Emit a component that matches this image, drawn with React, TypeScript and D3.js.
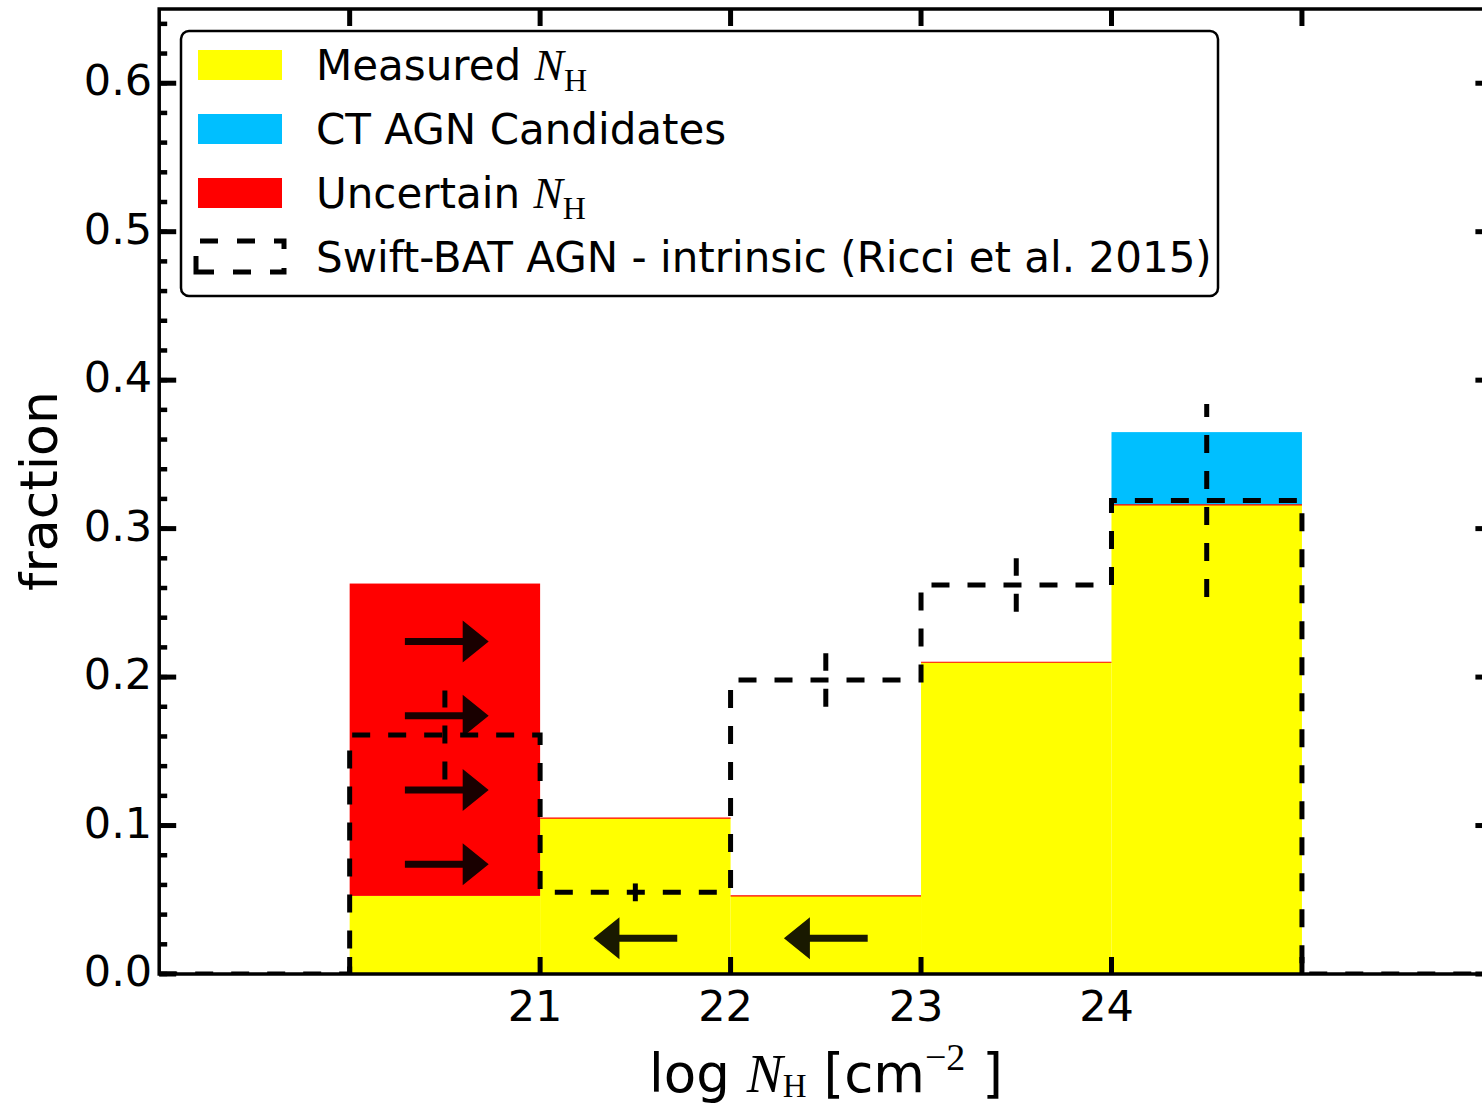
import React, { useEffect, useRef } from 'react';
import * as d3 from 'd3';

// bins in log NH
const binEdges = [20, 21, 22, 23, 24, 25];
const measured = [0.0526, 0.105, 0.0526, 0.21, 0.316];
const uncertain = [0.2104, 0, 0, 0, 0];
const ctCandidates = [0, 0, 0, 0, 0.049];
// Swift-BAT intrinsic (Ricci et al. 2015)
const ricci = [0.161, 0.055, 0.198, 0.262, 0.319];
const ricciErr = [0.03, 0.006, 0.018, 0.018, 0.065];
// limit arrows (from -> to, at height y)
const limitArrows = [
  { from: 20.29, to: 20.73, y: 0.074 },
  { from: 20.29, to: 20.73, y: 0.124 },
  { from: 20.29, to: 20.73, y: 0.174 },
  { from: 20.29, to: 20.73, y: 0.224 },
  { from: 21.72, to: 21.28, y: 0.024 },
  { from: 22.72, to: 22.28, y: 0.024 },
];

const xTicks = [20, 21, 22, 23, 24, 25];
const xTickLabels = [21, 22, 23, 24];
const yTicks = [0, 0.1, 0.2, 0.3, 0.4, 0.5, 0.6];
const yMinorTicks = d3.range(0, 0.65, 0.02);

const legendItems = [
  { label: 'Measured', math: true, color: '#ffff00' },
  { label: 'CT AGN Candidates', math: false, color: '#00bfff' },
  { label: 'Uncertain', math: true, color: '#ff0000' },
  { label: 'Swift-BAT AGN - intrinsic (Ricci et al. 2015)', math: false, color: null },
];

const App = () => {
  const ref = useRef(null);

  useEffect(() => {
    document.body.style.margin = '0';
    const width = 1482;
    const height = 1105;
    const font = 'DejaVu Sans';
    const serif = 'Liberation Serif';

    const x = d3.scaleLinear().domain([19, 26]).range([159.2, 1492.4]);
    const y = d3.scaleLinear().domain([0, 0.65]).range([974, 9]);
    const [x0, x1] = x.range();
    const [yb, yt] = y.range();

    d3.select(ref.current).select('svg').remove();
    const svg = d3
      .select(ref.current)
      .append('svg')
      .attr('width', width)
      .attr('height', height)
      .style('display', 'block')
      .style('background', '#fff');

    svg
      .append('defs')
      .append('clipPath')
      .attr('id', 'plot-clip')
      .append('rect')
      .attr('x', x0)
      .attr('y', yt)
      .attr('width', x1 - x0)
      .attr('height', yb - yt);

    const plot = svg.append('g').attr('clip-path', 'url(#plot-clip)');
    const bins = measured.map((m, i) => ({
      lo: binEdges[i],
      hi: binEdges[i + 1],
      m,
      u: uncertain[i],
      c: ctCandidates[i],
    }));

    // stacked bars
    plot
      .selectAll('rect.measured')
      .data(bins)
      .enter()
      .append('rect')
      .attr('x', d => x(d.lo))
      .attr('width', d => x(d.hi) - x(d.lo))
      .attr('y', d => y(d.m))
      .attr('height', d => y(0) - y(d.m))
      .attr('fill', '#ffff00');

    plot
      .selectAll('rect.uncertain')
      .data(bins.filter(d => d.u > 0))
      .enter()
      .append('rect')
      .attr('x', d => x(d.lo))
      .attr('width', d => x(d.hi) - x(d.lo))
      .attr('y', d => y(d.m + d.u))
      .attr('height', d => y(d.m) - y(d.m + d.u))
      .attr('fill', '#ff0000');

    plot
      .selectAll('rect.ct')
      .data(bins.filter(d => d.c > 0))
      .enter()
      .append('rect')
      .attr('x', d => x(d.lo))
      .attr('width', d => x(d.hi) - x(d.lo))
      .attr('y', d => y(d.m + d.u + d.c))
      .attr('height', d => y(d.m + d.u) - y(d.m + d.u + d.c))
      .attr('fill', '#00bfff');

    // thin red edge of the empty "uncertain" bars
    plot
      .selectAll('line.redge')
      .data(bins.filter(d => d.u === 0))
      .enter()
      .append('line')
      .attr('x1', d => x(d.lo))
      .attr('x2', d => x(d.hi))
      .attr('y1', d => y(d.m))
      .attr('y2', d => y(d.m))
      .attr('stroke', '#ff0000')
      .attr('stroke-width', 1.2);

    // limit arrows
    const arrowPath = a => {
      const xa = x(a.from);
      const xb = x(a.to);
      const yy = y(a.y);
      const dir = Math.sign(xb - xa);
      const headLen = 26;
      const headHalf = 21;
      const shaft = 3.5;
      const xh = xb - dir * headLen;
      return `M${xa},${yy - shaft}L${xh},${yy - shaft}L${xh},${yy - headHalf}L${xb},${yy}L${xh},${yy + headHalf}L${xh},${yy + shaft}L${xa},${yy + shaft}Z`;
    };
    plot
      .selectAll('path.arrow')
      .data(limitArrows)
      .enter()
      .append('path')
      .attr('d', arrowPath)
      .attr('fill', '#000')
      .attr('fill-opacity', 0.9);

    // Ricci step histogram
    const stepPts = [[x.domain()[0], 0]]
      .concat(ricci.map((v, i) => [binEdges[i], v]))
      .concat([[binEdges[binEdges.length - 1], 0], [x.domain()[1], 0]]);
    const step = d3
      .line()
      .x(d => x(d[0]))
      .y(d => y(d[1]))
      .curve(d3.curveStepAfter);
    plot
      .append('path')
      .attr('d', step(stepPts))
      .attr('fill', 'none')
      .attr('stroke', '#000')
      .attr('stroke-width', 5)
      .attr('stroke-dasharray', '18,18');

    // error bars
    plot
      .selectAll('line.err')
      .data(ricci)
      .enter()
      .append('line')
      .attr('x1', (d, i) => x((binEdges[i] + binEdges[i + 1]) / 2))
      .attr('x2', (d, i) => x((binEdges[i] + binEdges[i + 1]) / 2))
      .attr('y1', (d, i) => y(d - ricciErr[i]))
      .attr('y2', (d, i) => y(d + ricciErr[i]))
      .attr('stroke', '#000')
      .attr('stroke-width', 5)
      .attr('stroke-dasharray', '18,18');

    // spines
    const axes = svg.append('g');
    axes
      .append('rect')
      .attr('x', x0)
      .attr('y', yt)
      .attr('width', x1 - x0)
      .attr('height', yb - yt)
      .attr('fill', 'none')
      .attr('stroke', '#000')
      .attr('stroke-width', 3.5);

    // x ticks top and bottom
    xTicks.forEach(t => {
      axes.append('line').attr('x1', x(t)).attr('x2', x(t)).attr('y1', yt).attr('y2', yt + 17)
        .attr('stroke', '#000').attr('stroke-width', 5);
      axes.append('line').attr('x1', x(t)).attr('x2', x(t)).attr('y1', yb).attr('y2', yb - 17)
        .attr('stroke', '#000').attr('stroke-width', 5);
    });
    // y ticks left and right
    yMinorTicks.forEach(t => {
      axes.append('line').attr('x1', x0).attr('x2', x0 + 8).attr('y1', y(t)).attr('y2', y(t))
        .attr('stroke', '#000').attr('stroke-width', 4.5);
      axes.append('line').attr('x1', x1).attr('x2', x1 - 8).attr('y1', y(t)).attr('y2', y(t))
        .attr('stroke', '#000').attr('stroke-width', 4.5);
    });
    yTicks.forEach(t => {
      axes.append('line').attr('x1', x0).attr('x2', x0 + 17).attr('y1', y(t)).attr('y2', y(t))
        .attr('stroke', '#000').attr('stroke-width', 5);
      axes.append('line').attr('x1', x1).attr('x2', x1 - 17).attr('y1', y(t)).attr('y2', y(t))
        .attr('stroke', '#000').attr('stroke-width', 5);
    });

    // tick labels
    svg
      .selectAll('text.ylab')
      .data(yTicks)
      .enter()
      .append('text')
      .attr('x', x0 - 7)
      .attr('y', d => y(d) + 12)
      .attr('text-anchor', 'end')
      .attr('font-family', font)
      .attr('font-size', 43)
      .text(d => d3.format('.1f')(d));

    svg
      .selectAll('text.xlab')
      .data(xTickLabels)
      .enter()
      .append('text')
      .attr('x', d => x(d) - 5)
      .attr('y', 1021)
      .attr('text-anchor', 'middle')
      .attr('font-family', font)
      .attr('font-size', 43)
      .text(d => d);

    // axis labels
    const xl = svg
      .append('text')
      .attr('x', 826)
      .attr('y', 1092)
      .attr('text-anchor', 'middle')
      .attr('font-family', font)
      .attr('font-size', 53);
    xl.append('tspan').text('log ');
    xl.append('tspan').attr('font-family', serif).attr('font-style', 'italic').attr('font-size', 54).text('N');
    xl.append('tspan').attr('font-family', serif).attr('font-size', 33).attr('dy', 5).text('H');
    xl.append('tspan').attr('dy', -5).text(' [cm');
    xl.append('tspan').attr('font-family', serif).attr('font-size', 38).attr('dy', -22).text('\u22122');
    xl.append('tspan').attr('dy', 22).text(' ]');

    svg
      .append('text')
      .attr('transform', 'translate(57,491) rotate(-90)')
      .attr('text-anchor', 'middle')
      .attr('font-family', font)
      .attr('font-size', 52)
      .text('fraction');

    // legend
    const lg = svg.append('g');
    lg.append('rect')
      .attr('x', 181)
      .attr('y', 31)
      .attr('width', 1037)
      .attr('height', 265)
      .attr('rx', 8)
      .attr('fill', '#fff')
      .attr('stroke', '#000')
      .attr('stroke-width', 2.5);

    legendItems.forEach((item, i) => {
      const cy = 65 + i * 64;
      if (item.color) {
        lg.append('rect')
          .attr('x', 198)
          .attr('y', cy - 15)
          .attr('width', 84)
          .attr('height', 30)
          .attr('fill', item.color);
      } else {
        lg.append('path')
          .attr('d', `M196,${cy + 15}L284,${cy + 15}L284,${cy - 16}L196,${cy - 16}Z`)
          .attr('fill', 'none')
          .attr('stroke', '#000')
          .attr('stroke-width', 5)
          .attr('stroke-dasharray', '18,19');
      }
      const t = lg
        .append('text')
        .attr('x', 316)
        .attr('y', cy + 15)
        .attr('font-family', font)
        .attr('font-size', 42);
      t.append('tspan').text(item.label + (item.math ? ' ' : ''));
      if (item.math) {
        t.append('tspan').attr('font-family', serif).attr('font-style', 'italic').attr('font-size', 44).text('N');
        t.append('tspan').attr('font-family', serif).attr('font-size', 32).attr('dy', 11).text('H');
      }
    });
  }, []);

  return <div ref={ref}></div>;
};

export default App;
